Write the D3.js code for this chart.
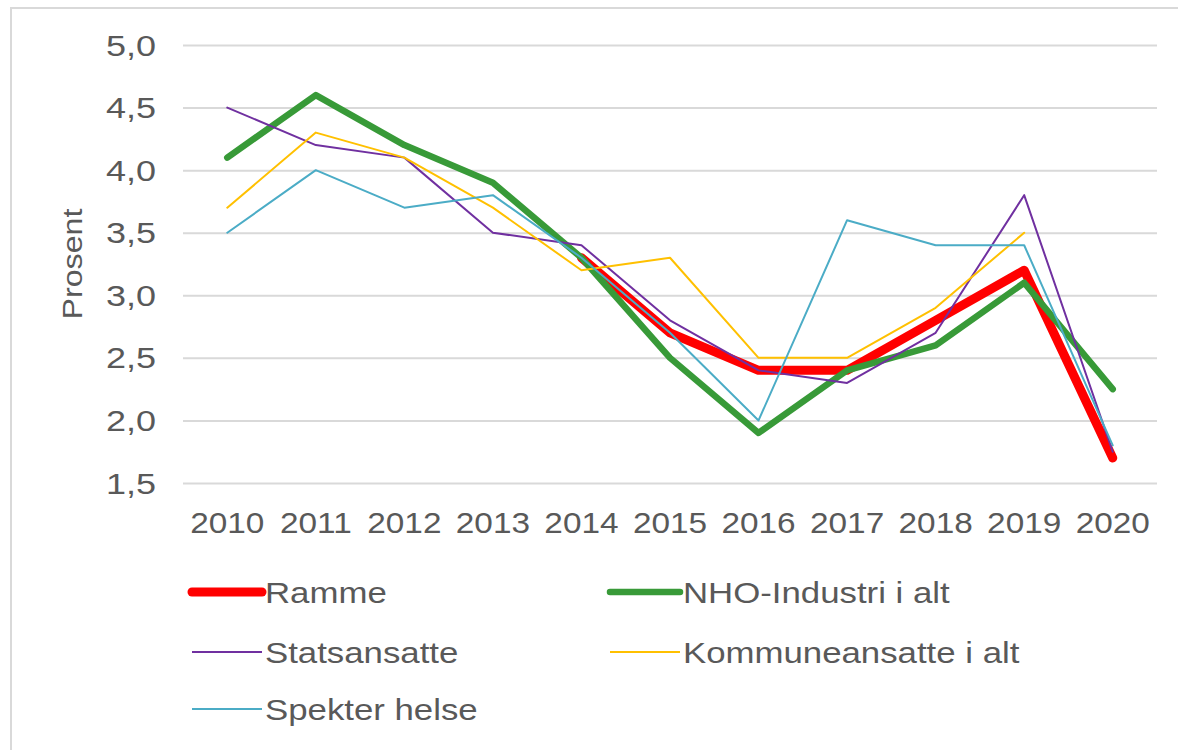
<!DOCTYPE html>
<html>
<head>
<meta charset="utf-8">
<script src="https://cdn.jsdelivr.net/npm/d3@7"></script>
<style>
  html, body { margin: 0; padding: 0; background: #fff; }
  svg { display: block; font-family: 'Liberation Sans', Arial, sans-serif; }
</style>
</head>
<body>
<svg id="chart"></svg>
<script>
const years = ['2010', '2011', '2012', '2013', '2014', '2015', '2016', '2017', '2018', '2019', '2020'];
const yTicks = [1.5, 2.0, 2.5, 3.0, 3.5, 4.0, 4.5, 5.0];

const ramme = [null, null, null, null, 3.3, 2.7, 2.4, 2.4, 2.8, 3.2, 1.7];
const nhoIndustri = [4.1, 4.6, 4.2, 3.9, 3.3, 2.5, 1.9, 2.4, 2.6, 3.1, 2.25];
const statsansatte = [4.5, 4.2, 4.1, 3.5, 3.4, 2.8, 2.4, 2.3, 2.7, 3.8, 1.75];
const kommuneansatte = [3.7, 4.3, 4.1, 3.7, 3.2, 3.3, 2.5, 2.5, 2.9, 3.5, null];
const spekterHelse = [3.5, 4.0, 3.7, 3.8, 3.3, 2.7, 2.0, 3.6, 3.4, 3.4, 1.8];

const seriesNames = ['Ramme', 'NHO-Industri i alt', 'Statsansatte', 'Kommuneansatte i alt', 'Spekter helse'];

const series = [
  { name: seriesNames[0], values: ramme, color: '#FF0000', width: 9 },
  { name: seriesNames[1], values: nhoIndustri, color: '#389A38', width: 6.5 },
  { name: seriesNames[2], values: statsansatte, color: '#7030A0', width: 2 },
  { name: seriesNames[3], values: kommuneansatte, color: '#FFC000', width: 2 },
  { name: seriesNames[4], values: spekterHelse, color: '#4BACC6', width: 2 },
];

const width = 1178;
const height = 750;
const plot = { left: 183, right: 1157, top: 45, bottom: 483 };
const textColor = '#595959';

const svg = d3.select('#chart').attr('width', width).attr('height', height);

// outer frame
svg
  .append('rect')
  .attr('x', 11)
  .attr('y', 8)
  .attr('width', width + 20)
  .attr('height', height + 20)
  .attr('fill', '#fff')
  .attr('stroke', '#D9D9D9')
  .attr('stroke-width', 2);

const xScale = d3.scalePoint().domain(years).range([plot.left, plot.right]).padding(0.5);
const yScale = d3.scaleLinear().domain([1.5, 5.0]).range([plot.bottom, plot.top]);

// gridlines
svg
  .append('g')
  .attr('class', 'grid')
  .attr('transform', `translate(${plot.left}, 0)`)
  .call(d3.axisLeft(yScale).tickValues(yTicks).tickSize(-(plot.right - plot.left)).tickFormat(''))
  .call((g) => g.select('.domain').remove())
  .call((g) => g.selectAll('line').attr('stroke', '#D9D9D9').attr('stroke-width', 2));

// y tick labels
svg
  .append('g')
  .attr('class', 'yAxis')
  .selectAll('text')
  .data(yTicks)
  .enter()
  .append('text')
  .attr('transform', (d) => `translate(156, ${yScale(d)}) scale(1.2,1)`)
  .attr('dy', '0.35em')
  .attr('text-anchor', 'end')
  .attr('font-size', '30px')
  .attr('fill', textColor)
  .text((d) => d.toFixed(1).replace('.', ','));

svg
  .append('text')
  .attr('transform', `translate(82, ${(plot.top + plot.bottom) / 2}) rotate(-90) scale(1.15,1)`)
  .attr('text-anchor', 'middle')
  .attr('font-size', '28px')
  .attr('fill', textColor)
  .text('Prosent');

// x tick labels
svg
  .append('g')
  .attr('class', 'xAxis')
  .selectAll('text')
  .data(years)
  .enter()
  .append('text')
  .attr('transform', (d) => `translate(${xScale(d)}, 523) scale(1.15,1)`)
  .attr('dy', '0.35em')
  .attr('text-anchor', 'middle')
  .attr('font-size', '29px')
  .attr('fill', textColor)
  .text((d) => d);

const line = d3
  .line()
  .defined((d) => d.y !== null)
  .x((d) => xScale(d.x))
  .y((d) => yScale(d.y));

svg
  .append('g')
  .attr('class', 'lines')
  .selectAll('path')
  .data(series)
  .enter()
  .append('path')
  .attr('d', (s) => line(s.values.map((v, i) => ({ x: years[i], y: v }))))
  .attr('fill', 'none')
  .attr('stroke', (s) => s.color)
  .attr('stroke-width', (s) => s.width)
  .attr('stroke-linejoin', 'round')
  .attr('stroke-linecap', 'round');

// legend
const legendPos = [
  { x: 192, y: 592 },
  { x: 610, y: 592 },
  { x: 192, y: 652 },
  { x: 610, y: 652 },
  { x: 192, y: 709 },
];

const legend = svg
  .append('g')
  .attr('class', 'legend')
  .selectAll('g')
  .data(series)
  .enter()
  .append('g')
  .attr('transform', (d, i) => `translate(${legendPos[i].x}, ${legendPos[i].y})`);

legend
  .append('line')
  .attr('x1', 0)
  .attr('x2', 70)
  .attr('stroke', (d) => d.color)
  .attr('stroke-width', (d) => d.width)
  .attr('stroke-linecap', (d) => (d.width > 3 ? 'round' : 'butt'));

legend
  .append('text')
  .attr('transform', 'translate(73, 0) scale(1.16,1)')
  .attr('dy', '0.35em')
  .attr('font-size', '30px')
  .attr('fill', textColor)
  .text((d) => d.name);
</script>
</body>
</html>
